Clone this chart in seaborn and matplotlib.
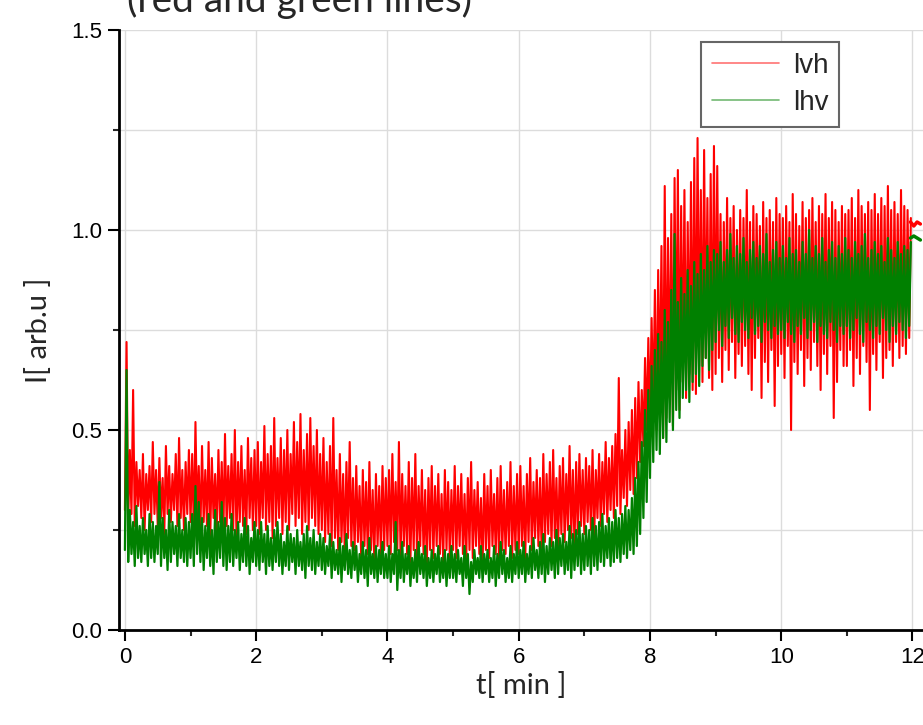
import numpy as np
import pandas as pd
import seaborn as sns
import matplotlib.pyplot as plt
from matplotlib.ticker import MultipleLocator

# samples every 0.05 min, one row per minute (t = 0 ... 11.95)
step = 0.05

# Ivh (red): upper and lower values of the noisy trace
lvh_hi = [
    0.72, 0.45, 0.60, 0.42, 0.40, 0.44, 0.39, 0.41, 0.47, 0.40, 0.43, 0.38, 0.46, 0.41, 0.39, 0.44, 0.48, 0.40, 0.42, 0.45,
    0.44, 0.52, 0.41, 0.46, 0.40, 0.47, 0.43, 0.39, 0.45, 0.42, 0.49, 0.41, 0.44, 0.50, 0.42, 0.46, 0.40, 0.48, 0.43, 0.45,
    0.47, 0.42, 0.51, 0.44, 0.46, 0.53, 0.43, 0.48, 0.45, 0.50, 0.44, 0.52, 0.47, 0.54, 0.45, 0.49, 0.53, 0.46, 0.50, 0.44,
    0.48, 0.42, 0.46, 0.53, 0.40, 0.44, 0.39, 0.42, 0.47, 0.38, 0.41, 0.36, 0.40, 0.37, 0.42, 0.35, 0.39, 0.36, 0.41, 0.38,
    0.40, 0.44, 0.37, 0.47, 0.39, 0.36, 0.42, 0.38, 0.44, 0.36, 0.40, 0.35, 0.38, 0.41, 0.36, 0.39, 0.34, 0.40, 0.37, 0.35,
    0.41, 0.36, 0.39, 0.34, 0.38, 0.42, 0.35, 0.37, 0.33, 0.39, 0.36, 0.40, 0.34, 0.38, 0.41, 0.35, 0.37, 0.42, 0.36, 0.39,
    0.41, 0.36, 0.39, 0.43, 0.37, 0.40, 0.38, 0.44, 0.39, 0.42, 0.45, 0.38, 0.41, 0.43, 0.39, 0.46, 0.40, 0.42, 0.44, 0.40,
    0.43, 0.41, 0.45, 0.40, 0.44, 0.42, 0.47, 0.43, 0.46, 0.49, 0.63, 0.45, 0.50, 0.52, 0.55, 0.58, 0.62, 0.60, 0.68, 0.73,
    0.78, 0.85, 0.90, 0.96, 1.11, 0.98, 1.04, 1.13, 1.15, 1.06, 1.10, 1.02, 1.12, 1.18, 1.23, 1.10, 1.20, 1.08, 1.14, 1.21,
    1.16, 1.04, 1.02, 1.08, 1.03, 1.06, 1.00, 1.05, 1.03, 1.10, 1.02, 1.06, 1.04, 1.01, 1.07, 1.03, 1.05, 1.02, 1.08, 1.04,
    1.03, 1.06, 1.02, 1.09, 1.04, 1.01, 1.07, 1.03, 1.05, 1.08, 1.02, 1.06, 1.04, 1.09, 1.03, 1.07, 1.05, 1.02, 1.06, 1.04,
    1.05, 1.08, 1.03, 1.10, 1.06, 1.04, 1.07, 1.05, 1.09, 1.04, 1.08, 1.06, 1.11, 1.05, 1.07, 1.04, 1.10, 1.06, 1.05, 1.03,
]
lvh_lo = [
    0.30, 0.27, 0.29, 0.26, 0.31, 0.28, 0.25, 0.30, 0.27, 0.29, 0.26, 0.28, 0.24, 0.29, 0.27, 0.30, 0.26, 0.28, 0.25, 0.29,
    0.27, 0.25, 0.28, 0.24, 0.27, 0.26, 0.23, 0.28, 0.25, 0.27, 0.24, 0.26, 0.28, 0.25, 0.23, 0.27, 0.26, 0.24, 0.28, 0.25,
    0.26, 0.24, 0.28, 0.25, 0.27, 0.23, 0.26, 0.28, 0.24, 0.27, 0.25, 0.29, 0.26, 0.28, 0.24, 0.27, 0.25, 0.28, 0.26, 0.24,
    0.25, 0.22, 0.24, 0.21, 0.23, 0.20, 0.22, 0.19, 0.23, 0.21, 0.20, 0.22, 0.18, 0.21, 0.19, 0.20, 0.17, 0.21, 0.19, 0.20,
    0.21, 0.19, 0.22, 0.20, 0.18, 0.21, 0.19, 0.17, 0.20, 0.18, 0.21, 0.19, 0.16, 0.20, 0.18, 0.21, 0.19, 0.17, 0.20, 0.18,
    0.20, 0.18, 0.21, 0.19, 0.17, 0.20, 0.18, 0.21, 0.19, 0.16, 0.20, 0.18, 0.21, 0.19, 0.17, 0.20, 0.19, 0.21, 0.18, 0.20,
    0.19, 0.21, 0.18, 0.22, 0.20, 0.23, 0.21, 0.19, 0.22, 0.24, 0.21, 0.23, 0.20, 0.24, 0.22, 0.25, 0.23, 0.21, 0.24, 0.26,
    0.24, 0.27, 0.25, 0.23, 0.28, 0.26, 0.29, 0.27, 0.30, 0.28, 0.31, 0.29, 0.33, 0.31, 0.35, 0.34, 0.38, 0.42, 0.46, 0.50,
    0.52, 0.55, 0.50, 0.57, 0.48, 0.53, 0.58, 0.51, 0.60, 0.55, 0.62, 0.58, 0.64, 0.60, 0.59, 0.66, 0.62, 0.68, 0.63, 0.60,
    0.64, 0.68, 0.62, 0.70, 0.65, 0.72, 0.63, 0.69, 0.66, 0.71, 0.64, 0.60, 0.68, 0.73, 0.58, 0.67, 0.62, 0.70, 0.56, 0.66,
    0.69, 0.63, 0.71, 0.50, 0.67, 0.64, 0.70, 0.61, 0.68, 0.65, 0.72, 0.66, 0.60, 0.69, 0.64, 0.71, 0.53, 0.62, 0.70, 0.66,
    0.66, 0.70, 0.61, 0.68, 0.64, 0.71, 0.67, 0.55, 0.69, 0.65, 0.72, 0.63, 0.68, 0.70, 0.66, 0.72, 0.68, 0.71, 0.69, 0.73,
]

# Ihv (green)
lhv_hi = [
    0.65, 0.30, 0.27, 0.31, 0.26, 0.28, 0.25, 0.29, 0.27, 0.26, 0.37, 0.28, 0.25, 0.30, 0.27, 0.26, 0.29, 0.25, 0.28, 0.27,
    0.29, 0.36, 0.32, 0.28, 0.26, 0.29, 0.25, 0.30, 0.27, 0.32, 0.28, 0.26, 0.29, 0.25, 0.27, 0.24, 0.28, 0.26, 0.23, 0.27,
    0.25, 0.27, 0.24, 0.26, 0.23, 0.25, 0.27, 0.24, 0.22, 0.26, 0.24, 0.23, 0.25, 0.22, 0.24, 0.26, 0.23, 0.25, 0.22, 0.24,
    0.23, 0.21, 0.24, 0.22, 0.20, 0.23, 0.21, 0.24, 0.20, 0.22, 0.21, 0.19, 0.22, 0.20, 0.23, 0.19, 0.21, 0.20, 0.22, 0.19,
    0.21, 0.19, 0.27, 0.20, 0.22, 0.19, 0.21, 0.18, 0.20, 0.22, 0.19, 0.21, 0.18, 0.20, 0.19, 0.21, 0.18, 0.20, 0.19, 0.21,
    0.19, 0.20, 0.18, 0.21, 0.19, 0.17, 0.20, 0.18, 0.21, 0.19, 0.20, 0.18, 0.21, 0.19, 0.22, 0.20, 0.18, 0.21, 0.19, 0.22,
    0.20, 0.22, 0.19, 0.21, 0.23, 0.20, 0.22, 0.24, 0.21, 0.23, 0.22, 0.25, 0.23, 0.24, 0.22, 0.26, 0.24, 0.25, 0.27, 0.24,
    0.26, 0.25, 0.28, 0.26, 0.27, 0.29, 0.26, 0.28, 0.27, 0.30, 0.28, 0.29, 0.31, 0.30, 0.33, 0.38, 0.42, 0.47, 0.55, 0.60,
    0.66, 0.70, 0.74, 0.72, 0.80, 0.77, 0.85, 0.99, 0.82, 0.88, 0.84, 0.90, 0.86, 0.92, 0.89, 0.94, 0.90, 0.96, 0.92, 0.95,
    0.94, 0.97, 0.92, 0.95, 0.99, 0.93, 0.96, 0.94, 0.98, 0.92, 0.95, 0.97, 0.93, 0.96, 0.94, 0.99, 0.92, 0.95, 0.97, 0.93,
    0.96, 0.93, 0.98, 0.94, 0.95, 0.92, 0.97, 0.94, 1.00, 0.93, 0.96, 0.94, 0.98, 0.92, 0.95, 0.97, 0.93, 0.96, 0.94, 0.98,
    0.95, 0.93, 0.97, 0.94, 0.96, 0.99, 0.93, 0.95, 0.97, 0.94, 0.96, 0.92, 0.98, 0.95, 0.93, 0.97, 0.94, 0.96, 0.95, 0.97,
]
lhv_lo = [
    0.20, 0.17, 0.19, 0.16, 0.18, 0.17, 0.19, 0.16, 0.18, 0.17, 0.19, 0.16, 0.18, 0.15, 0.17, 0.19, 0.16, 0.18, 0.17, 0.16,
    0.18, 0.16, 0.19, 0.17, 0.15, 0.18, 0.16, 0.14, 0.17, 0.18, 0.16, 0.15, 0.17, 0.16, 0.18, 0.15, 0.17, 0.16, 0.14, 0.17,
    0.16, 0.15, 0.17, 0.14, 0.16, 0.15, 0.17, 0.16, 0.14, 0.16, 0.15, 0.17, 0.14, 0.16, 0.15, 0.13, 0.16, 0.15, 0.14, 0.16,
    0.15, 0.14, 0.16, 0.13, 0.15, 0.14, 0.12, 0.15, 0.14, 0.13, 0.15, 0.12, 0.14, 0.13, 0.11, 0.14, 0.13, 0.12, 0.14, 0.13,
    0.13, 0.12, 0.14, 0.10, 0.13, 0.12, 0.14, 0.11, 0.13, 0.12, 0.14, 0.13, 0.11, 0.13, 0.12, 0.14, 0.12, 0.13, 0.11, 0.13,
    0.13, 0.12, 0.14, 0.11, 0.13, 0.09, 0.12, 0.14, 0.13, 0.12, 0.14, 0.12, 0.13, 0.11, 0.13, 0.14, 0.12, 0.13, 0.12, 0.14,
    0.13, 0.14, 0.12, 0.14, 0.13, 0.15, 0.13, 0.14, 0.12, 0.14, 0.15, 0.13, 0.14, 0.16, 0.14, 0.15, 0.13, 0.15, 0.16, 0.14,
    0.15, 0.16, 0.14, 0.16, 0.15, 0.17, 0.16, 0.18, 0.16, 0.17, 0.18, 0.17, 0.19, 0.18, 0.20, 0.19, 0.21, 0.24, 0.28, 0.32,
    0.38, 0.42, 0.45, 0.44, 0.48, 0.47, 0.52, 0.50, 0.55, 0.53, 0.58, 0.60, 0.57, 0.62, 0.64, 0.61, 0.66, 0.68, 0.65, 0.70,
    0.72, 0.75, 0.71, 0.76, 0.73, 0.78, 0.74, 0.72, 0.77, 0.75, 0.73, 0.78, 0.74, 0.76, 0.72, 0.77, 0.75, 0.73, 0.76, 0.74,
    0.75, 0.73, 0.77, 0.74, 0.72, 0.76, 0.74, 0.78, 0.73, 0.75, 0.77, 0.72, 0.76, 0.74, 0.73, 0.77, 0.75, 0.72, 0.76, 0.74,
    0.76, 0.73, 0.75, 0.78, 0.74, 0.72, 0.77, 0.75, 0.73, 0.76, 0.74, 0.78, 0.75, 0.72, 0.76, 0.74, 0.77, 0.75, 0.73, 0.76,
]

# short flat pieces after the end of the record
stub_t = [11.97, 12.02, 12.07, 12.12]
lvh_stub = [1.02, 1.01, 1.02, 1.015]
lhv_stub = [0.98, 0.985, 0.98, 0.975]

xticks = [0, 2, 4, 6, 8, 10, 12]
yticks = [0.0, 0.5, 1.0, 1.5]


def trace(lo, hi):
    # lo and hi samples alternate, giving the spiky look of the raw signal
    t = np.arange(len(lo)) * step
    x = np.column_stack([t, t + step / 2]).ravel()
    y = np.column_stack([lo, hi]).ravel()
    return pd.DataFrame({"t": x, "I": y})


sns.set_theme(style="white")
plt.rcParams["font.family"] = ["Liberation Sans", "DejaVu Sans"]
calibri_like = ["Lato", "DejaVu Sans"]

fig = plt.figure(figsize=(9.23, 7.25), dpi=100)
ax = fig.add_axes([119 / 923, 95 / 725, 804 / 923, 600 / 725])

sns.lineplot(data=trace(lvh_lo, lvh_hi), x="t", y="I", sort=False, estimator=None,
             color="#ff0000", lw=1.5, label="lvh", ax=ax)
sns.lineplot(data=trace(lhv_lo, lhv_hi), x="t", y="I", sort=False, estimator=None,
             color="#008000", lw=1.6, label="lhv", ax=ax)
sns.lineplot(x=stub_t, y=lvh_stub, sort=False, estimator=None, color="#ff0000",
             lw=2.5, ax=ax, legend=False)
sns.lineplot(x=stub_t, y=lhv_stub, sort=False, estimator=None, color="#008000",
             lw=2.5, ax=ax, legend=False)

ax.set_xlim(-0.09, 12.16)
ax.set_ylim(0, 1.5)
ax.set_xticks(xticks)
ax.set_yticks(yticks)
ax.xaxis.set_minor_locator(MultipleLocator(1))
ax.yaxis.set_minor_locator(MultipleLocator(0.25))
ax.set_yticklabels([f"{v:.1f}" for v in yticks])
ax.tick_params(which="major", direction="out", length=8, width=1.5, labelsize=16,
               left=True, bottom=True, colors="black", pad=4)
ax.tick_params(which="minor", direction="out", length=4.5, width=1.5, left=True, bottom=True)

ax.grid(which="major", axis="x", color="#dcdcdc", lw=1)
ax.grid(which="both", axis="y", color="#dcdcdc", lw=1)
ax.set_axisbelow(True)

for s in ["top", "right"]:
    ax.spines[s].set_visible(False)
for s in ["left", "bottom"]:
    ax.spines[s].set_color("black")
    ax.spines[s].set_linewidth(2)

ax.set_xlabel("t[ min ]", fontsize=21, family=calibri_like, labelpad=3)
ax.set_ylabel("I[ arb.u ]", fontsize=21, family=calibri_like, labelpad=14)

leg = ax.legend(loc="upper left", bbox_to_anchor=(701 / 923, 1 - 42 / 725),
                bbox_transform=fig.transFigure, borderaxespad=0, fancybox=False,
                fontsize=20, handlelength=2.4, labelspacing=0.4, borderpad=0.4,
                handletextpad=0.5, framealpha=1)
leg.get_frame().set_edgecolor("#666666")
leg.get_frame().set_linewidth(1.5)
for line in leg.get_lines():
    line.set_alpha(0.55)
    line.set_linewidth(1.2)

# second line of the slide title, cut off by the top edge as in the source
fig.text(127 / 923, 1 - 12 / 725, "(red and green lines)", fontsize=28,
         family=calibri_like, va="baseline", ha="left")

fig.savefig("out.png", dpi=100)
